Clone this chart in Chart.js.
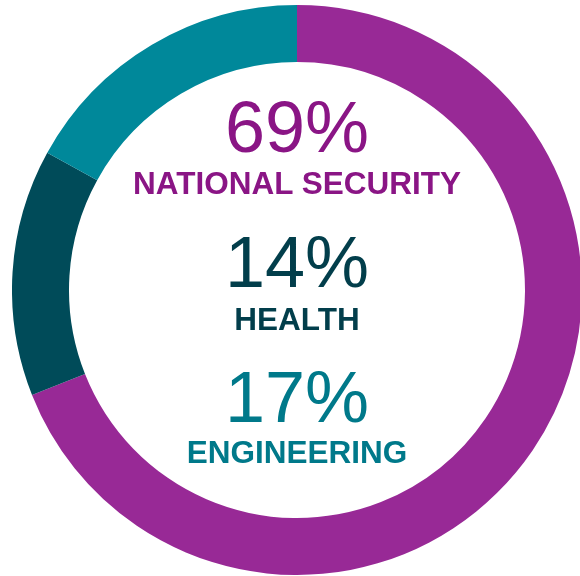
<!DOCTYPE html>
<html lang="en">
<head>
    <meta charset="UTF-8">
    <title>Share by area</title>
    <script src="https://cdn.jsdelivr.net/npm/chart.js"></script>
</head>
<body style="margin:0;width:580px;height:576px;overflow:hidden;background:#fff;font-family:'Liberation Sans',Arial,sans-serif;">
    <div id="wrap" style="position:relative;width:580px;height:576px;">
        <div style="position:absolute;left:12px;top:5px;width:570px;height:570px;">
            <canvas id="ring"></canvas>
        </div>
        <div id="labels"></div>
    </div>
    <script>
        // chart values
        const categories = ['NATIONAL SECURITY', 'HEALTH', 'ENGINEERING'];
        const shares = [69, 14, 17];
        const ringColors = ['#982996', '#004B59', '#00889A'];
        const textColors = ['#8A1585', '#023E4B', '#00798A'];

        new Chart(document.getElementById('ring'), {
            type: 'doughnut',
            data: {
                labels: categories,
                datasets: [{
                    data: shares,
                    backgroundColor: ringColors,
                    borderWidth: 0,
                    hoverOffset: 0
                }]
            },
            options: {
                responsive: true,
                maintainAspectRatio: false,
                animation: false,
                cutout: '80%',
                layout: { padding: 0 },
                plugins: { legend: { display: false }, tooltip: { enabled: false } },
                events: []
            }
        });

        // centre text, one block per category
        const pctTops = [91, 226, 361];
        const nameTops = [168, 304, 437];
        const labels = document.getElementById('labels');
        categories.forEach((name, i) => {
            const pct = document.createElement('div');
            pct.textContent = shares[i] + '%';
            pct.style.cssText = `position:absolute;left:14px;width:566px;top:${pctTops[i]}px;text-align:center;font-size:72px;line-height:1;color:${textColors[i]};`;
            labels.appendChild(pct);
            const lab = document.createElement('div');
            lab.textContent = name;
            lab.style.cssText = `position:absolute;left:14px;width:566px;top:${nameTops[i]}px;text-align:center;font-size:31.5px;font-weight:bold;line-height:1;color:${textColors[i]};`;
            labels.appendChild(lab);
        });
    </script>
</body>
</html>
